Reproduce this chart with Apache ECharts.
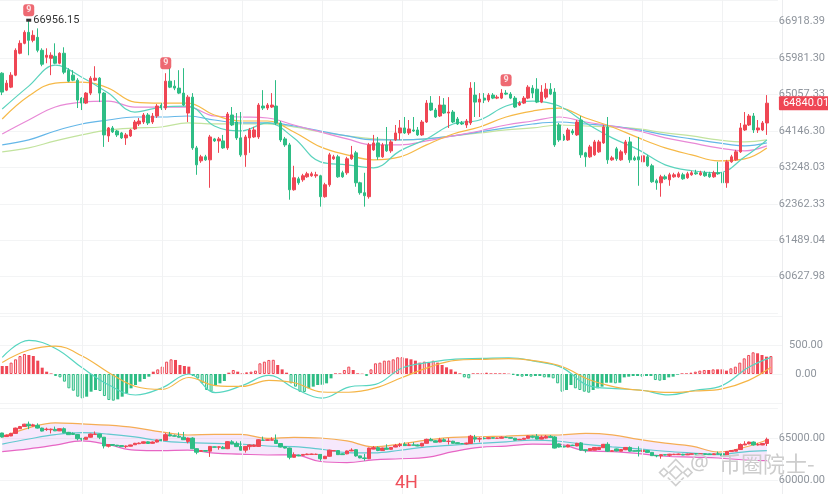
<!DOCTYPE html>
<html>
<head>
<meta charset="utf-8">
<script src="https://cdn.jsdelivr.net/npm/echarts@6/dist/echarts.min.js"></script>
<style>
  html, body { margin: 0; padding: 0; background: #fff; }
  #chart { width: 828px; height: 494px; }
</style>
</head>
<body>
<div id="chart"></div>
<script>
// price axis labels (the axis is log spaced)
const priceTicks = [60627.98, 61489.04, 62362.33, 63248.03, 64146.30, 65057.33, 65981.30, 66918.39];

// 4H candles
const opens = [
  65597,65168,65244,65547,66105,66360,66643,66437,66514,66181,
  66003,65977,66028,65850,66105,65673,65547,65420,64967,64842,
  65093,65420,65471,65093,64023,64221,64146,64097,63974,64023,
  64196,64320,64369,64544,64369,64519,64793,64718,65395,65269,
  65219,65093,64593,64992,63727,63409,63507,63433,63949,63899,
  63899,63727,64544,64369,63974,63556,63974,63998,63998,64768,
  64718,64743,64768,64345,63949,63801,62703,62969,62945,63018,
  63043,63043,63043,62534,62824,63458,63507,63116,63116,63458,
  63605,62872,62631,62534,63678,63850,63507,63801,63654,63924,
  64097,64221,64097,64171,64171,64048,64369,64842,64668,64519,
  64793,64593,64618,64444,64345,64295,64345,65043,64867,64967,
  64917,65043,64967,64967,65093,65068,64967,64793,64842,64967,
  65219,65193,64867,64992,65193,65118,64295,64023,63924,64146,
  64048,64419,63605,63507,63556,63629,63850,64245,63433,63703,
  63433,63605,63875,63482,63507,63384,63507,63287,62921,62872,
  63018,62945,63018,63018,63067,62994,63067,63116,63067,63116,
  63091,63018,63116,63116,62872,63384,63433,63629,64171,64295,
  64519,64171,64171,64345
];
const closes = [
  65118,65345,65547,66181,66360,66643,66437,66566,66181,65825,
  66054,66054,65850,66105,65622,65395,65420,64917,64842,65093,
  65471,65471,65093,64048,64221,64122,64048,63974,64048,64171,
  64369,64394,64544,64345,64519,64768,64718,65395,65244,65219,
  65093,64793,64992,63727,63311,63507,63433,63998,63899,63949,
  63727,64568,64295,63974,63556,63998,64171,64171,64793,64718,
  64793,64793,64345,63924,63801,62703,62994,62872,63043,63091,
  63091,63067,62534,62824,63556,63507,63018,63018,63458,63556,
  62872,62631,62559,63801,63850,63507,63801,63654,63875,64097,
  64221,64097,64196,64146,64048,64369,64842,64668,64494,64793,
  64593,64618,64369,64320,64320,64394,65219,64867,64942,64917,
  65043,64967,64992,65093,65068,64967,64743,64842,64967,65244,
  65093,64867,65118,65193,65068,63801,63924,63924,64171,64097,
  64369,63556,63507,63752,63875,63875,64245,63433,63482,63458,
  63629,63875,63433,63433,63433,63531,63287,62897,62872,63018,
  62969,63067,63067,63091,62969,63091,63116,63091,63116,63043,
  63018,63116,63091,62872,63384,63507,63629,64221,64295,64519,
  64171,64221,64345,64840.01
];
const lows = [
  65043,65143,65219,65521,66079,66335,66054,66386,66130,65774,
  65850,65547,65825,65825,65572,65370,65395,64718,64668,64818,
  65043,65395,64867,63752,63875,64097,63998,63949,63801,63998,
  64171,64270,64320,64295,64320,64469,64668,64668,65219,65168,
  65068,64768,64369,63678,63067,63360,63409,62751,63875,63605,
  63703,63678,64270,63924,63507,63262,63605,63974,63949,64668,
  64668,64718,64295,63875,63752,62462,62679,62824,62897,62994,
  63018,62994,62294,62510,62776,63433,62994,62994,63067,63433,
  62776,62583,62294,62486,63654,63433,63482,63629,63605,63899,
  63924,64072,64048,64122,64023,64023,64345,64643,64469,64494,
  64568,64221,64345,64295,64295,64221,64295,64494,64494,64842,
  64867,64942,64942,64942,65043,64942,64718,64768,64818,64942,
  64967,64842,64842,64942,65043,63752,63875,63899,63899,64048,
  64023,63482,63262,63482,63531,63605,63826,63335,63409,63409,
  63409,63556,63360,63409,62800,63360,63262,62872,62703,62534,
  62945,62800,62994,62994,62945,62969,63043,63067,63043,63018,
  62994,62994,63067,62727,62751,63360,63409,63605,64146,64270,
  64097,64097,64146,64048
];
const highs = [
  65622,65420,65622,66232,66437,66694,66956.15,66694,66745,66232,
  66232,66130,66360,66130,66258,65724,65673,65471,64992,65118,
  65521,65774,65496,65118,64245,64270,64171,64122,64097,64196,
  64419,64469,64593,64593,64593,64818,64842,65597,65724,65420,
  65673,65724,65043,65093,63776,63556,63556,64048,63974,63998,
  64048,64618,64743,64593,64618,64048,64221,64245,64842,65168,
  64842,65093,65420,64394,63998,63850,63287,63018,63091,63140,
  63140,63140,63067,62872,63605,63556,63556,63165,63507,63776,
  63654,62897,63116,63850,64048,63998,63850,64245,63924,64295,
  64419,64494,64419,64494,64245,64419,64917,65018,64718,65018,
  64967,64992,64668,64494,64394,64444,65370,65370,65093,65093,
  65093,65093,65043,65193,65168,65118,65018,64892,65018,65294,
  65294,65471,65294,65345,65345,65219,64345,64072,64221,64196,
  64419,64519,63629,63801,63924,63924,64295,64494,63531,63752,
  63678,63924,63998,63531,63998,63580,63556,63335,62969,63067,
  63067,63116,63116,63140,63116,63140,63165,63189,63165,63165,
  63140,63165,63384,63165,63433,63556,63678,64345,64618,64568,
  64593,64419,64394,65043
];

// moving averages, read at every 6th candle
const sampleIdx = [0,6,12,18,24,30,36,42,48,54,60,66,72,78,84,90,96,102,108,114,120,126,132,138,144,150,156,162,168,173];
const maTeal   = [64693,65269,65800,65496,65093,64618,64743,64768,64270,64146,64345,63974,63384,63311,63238,63654,63949,64320,64419,64768,64892,64768,64345,63974,63678,63311,63165,63116,63507,63924];
const maOrange = [64444,65018,65345,65370,65219,64867,64842,64842,64544,64394,64394,64122,63752,63556,63433,63507,63801,64072,64245,64494,64643,64718,64469,64245,63974,63727,63556,63409,63458,63727];
const maPink   = [64072,64419,64743,64867,64892,64743,64743,64743,64519,64494,64469,64295,64122,63949,63801,63801,63899,64023,64146,64295,64394,64494,64369,64270,64146,63974,63850,63727,63654,63776];
const maBlue   = [63801,63924,64146,64320,64419,64494,64494,64519,64419,64345,64345,64270,64146,64023,63924,63924,63949,64023,64122,64221,64320,64369,64320,64270,64171,64048,63949,63850,63776,63850];
const maLime   = [63629,63727,63899,64048,64171,64221,64245,64345,64320,64320,64320,64245,64122,64023,63949,63924,63949,64023,64097,64171,64221,64295,64270,64245,64196,64097,64023,63924,63875,63924];

// MACD
const macdHist = [
  138,138,196,253,310,345,328,310,230,109,
  40,10,-35,-58,-132,-247,-288,-391,-420,-391,
  -305,-276,-293,-380,-449,-460,-437,-391,-334,-247,
  -190,-132,-86,-46,40,80,127,213,253,242,
  155,138,127,-35,-75,-161,-276,-305,-190,-161,
  -121,23,69,40,12,29,40,58,184,213,
  242,245,155,80,23,-161,-218,-305,-310,-247,
  -218,-190,-185,-161,-75,12,12,69,127,69,
  12,6,-35,80,184,196,230,232,253,288,
  290,270,253,230,196,213,196,230,196,155,
  115,80,40,12,-58,-75,12,12,12,23,
  12,12,12,12,6,-12,-35,-46,-35,-46,
  -35,-35,-58,-58,-75,-161,-305,-276,-190,-247,
  -276,-305,-322,-276,-247,-218,-150,-150,-161,-150,
  -58,-46,-35,-35,-46,-35,-35,-104,-115,-104,
  -58,-46,-12,12,12,23,40,58,69,69,
  80,80,80,58,98,127,196,270,328,374,
  357,328,299,310
];
const dif = [287,580,441,106,-190,-362,-236,0,-322,-201,-25,-255,-415,-225,-180,103,200,258,268,280,218,110,-200,-252,-280,-360,-280,-200,115,287];
const dea = [200,413,480,310,23,-215,-265,-60,-200,-215,-110,-155,-310,-315,-240,-60,115,235,253,265,225,130,-95,-225,-284,-318,-293,-255,-110,115];
const macdLabels = [0, 500];

// Bollinger bands on the lower price panel
const bbUpper = [65100,66200,66800,66670,66530,66240,65720,65360,65440,65440,64950,65080,65000,64650,63950,64280,64740,65070,65150,65230,65350,65357,65555,65380,64830,64380,64040,63330,63900,64762];
const bbMid   = [64270,64880,65400,65630,65460,65130,64650,64440,64360,64280,64048,63970,63670,63270,63230,63540,63940,64160,64350,64550,64750,64610,64230,63940,63700,63420,63210,63030,63350,63488];
const bbLower = [63370,63700,64150,64650,64200,63550,63488,63560,63200,63080,62976,62990,62200,62070,62400,62530,62690,63370,63880,64040,64270,64230,63470,63380,63150,62830,62715,62620,62380,62300];
const lowerPanelLabels = [60000, 65000];

const tdNineIdx = [6, 37, 114];
const vLineIdx = [18, 36, 54, 72, 90, 108, 126, 144, 162];

const UP = '#EF4654', DOWN = '#2EBD85';
const N = opens.length + 2;
const categories = Array.from({ length: N }, (_, i) => String(i + 1));

const base = priceTicks[0];
const step = Math.log(priceTicks[priceTicks.length - 1] / base) / (priceTicks.length - 1);
const K = p => Math.log(p / base) / step;

const candleK = opens.map((o, i) => [K(o), K(closes[i]), K(lows[i]), K(highs[i])]);
const candleRaw = opens.map((o, i) => [o, closes[i], lows[i], highs[i]]);

function sparse(vals, f) {
  const a = new Array(N).fill(null);
  sampleIdx.forEach((ix, j) => { a[ix] = f ? f(vals[j]) : vals[j]; });
  return a;
}

let maxIdx = 0;
highs.forEach((h, i) => { if (h > highs[maxIdx]) maxIdx = i; });
const lastClose = closes[closes.length - 1];

const histData = macdHist.map((v, i) => {
  const prev = i > 0 ? Math.abs(macdHist[i - 1]) : Infinity;
  const c = v >= 0 ? UP : DOWN;
  if (Math.abs(v) > prev) {
    return { value: v, itemStyle: { color: v >= 0 ? 'rgba(239,70,84,0.16)' : 'rgba(46,189,133,0.2)', borderColor: c, borderWidth: 1 } };
  }
  return { value: v, itemStyle: { color: c } };
});

const axisText = { color: '#8E949C', fontSize: 11, fontFamily: 'Roboto', align: 'center', margin: 24 };
const candleStyle = { color: UP, color0: DOWN, borderColor: UP, borderColor0: DOWN, borderWidth: 1 };

function maLine(vals, color) {
  return {
    type: 'line', xAxisIndex: 0, yAxisIndex: 0, data: sparse(vals, K),
    connectNulls: true, smooth: 0.4, symbol: 'none', silent: true, z: 3,
    lineStyle: { color: color, width: 1.2 }
  };
}
function panelLine(ax, data, color, z) {
  return {
    type: 'line', xAxisIndex: ax, yAxisIndex: ax, data: data,
    connectNulls: true, smooth: 0.4, symbol: 'none', silent: true, z: z || 3,
    lineStyle: { color: color, width: 1.2 }
  };
}

const hiddenX = idx => ({
  type: 'category', gridIndex: idx, data: categories, boundaryGap: true,
  axisLine: { show: false }, axisTick: { show: false }, axisLabel: { show: false }, splitLine: { show: false }
});

const chart = echarts.init(document.getElementById('chart'));
chart.setOption({
  animation: false,
  backgroundColor: '#fff',
  grid: [
    { left: 0, right: 46, top: 0, height: 313.1 },
    { left: 0, right: 46, top: 316, height: 87 },
    { left: 0, right: 46, top: 408.6, height: 71.4 },
    { left: 0, right: 46, top: 0, bottom: 0 }
  ],
  xAxis: [hiddenX(0), hiddenX(1), hiddenX(2), hiddenX(3)],
  yAxis: [
    {
      type: 'value', gridIndex: 0, position: 'right', min: -1, max: 7.595, interval: 1,
      axisLine: { show: false }, axisTick: { show: false },
      splitLine: { lineStyle: { color: '#F3F4F5' } },
      axisLabel: Object.assign({}, axisText, {
        formatter: v => {
          const i = Math.round(v);
          return (Math.abs(v - i) < 1e-6 && i >= 0 && i < priceTicks.length) ? priceTicks[i].toFixed(2) : '';
        }
      })
    },
    {
      type: 'value', gridIndex: 1, position: 'right', min: -500, max: 1000, interval: 500,
      axisLine: { show: false }, axisTick: { show: false },
      splitLine: { lineStyle: { color: '#F3F4F5' } },
      axisLabel: Object.assign({}, axisText, {
        formatter: v => macdLabels.indexOf(v) >= 0 ? v.toFixed(2) : ''
      })
    },
    {
      type: 'value', gridIndex: 2, position: 'right', min: 60000, max: 68500, interval: 5000,
      axisLine: { show: false }, axisTick: { show: false },
      splitLine: { lineStyle: { color: '#F3F4F5' } },
      axisLabel: Object.assign({}, axisText, {
        formatter: v => lowerPanelLabels.indexOf(v) >= 0 ? v.toFixed(2) : ''
      })
    },
    {
      type: 'value', gridIndex: 3, position: 'right', min: 0, max: 1,
      axisLine: { show: true, lineStyle: { color: '#ECEDEF' } },
      axisTick: { show: false }, axisLabel: { show: false }, splitLine: { show: false }
    }
  ],
  series: [
    {
      type: 'line', xAxisIndex: 3, yAxisIndex: 3, data: [], silent: true, z: 0,
      markLine: {
        silent: true, symbol: ['none', 'none'], animation: false,
        label: { show: false },
        lineStyle: { color: '#F1F2F3', width: 1, type: 'solid' },
        data: vLineIdx.map(i => ({ xAxis: i }))
      }
    },
    maLine(maLime, '#C2E39E'),
    maLine(maBlue, '#65B7E8'),
    maLine(maPink, '#E889D6'),
    maLine(maOrange, '#F6B947'),
    maLine(maTeal, '#5BD3BD'),
    {
      type: 'candlestick', xAxisIndex: 0, yAxisIndex: 0, data: candleK, barWidth: 3, z: 4,
      silent: true, itemStyle: candleStyle,
      markPoint: {
        silent: true, animation: false,
        symbol: 'rect', symbolSize: [5, 3],
        itemStyle: { color: '#333' },
        label: {
          show: true, position: 'right', distance: 2, color: '#333', fontSize: 11, fontFamily: 'Roboto',
          formatter: () => highs[maxIdx].toFixed(2)
        },
        data: [{ coord: [maxIdx, K(highs[maxIdx])] }]
      },
      markLine: {
        silent: true, symbol: ['none', 'none'], animation: false,
        lineStyle: { color: 'rgba(0,0,0,0)', width: 0 },
        label: {
          show: true, position: 'end', distance: 1, formatter: () => lastClose.toFixed(2),
          color: '#fff', backgroundColor: UP, fontSize: 11, fontFamily: 'Roboto',
          padding: [2, 3, 1, 4], borderRadius: 1
        },
        data: [{ yAxis: K(lastClose) }]
      }
    },
    {
      type: 'scatter', xAxisIndex: 0, yAxisIndex: 0, z: 6, silent: true,
      data: tdNineIdx.map(i => [i, K(highs[i])]),
      symbol: 'roundRect', symbolSize: [11, 12], symbolOffset: [0, -10],
      itemStyle: { color: '#EA434F' },
      label: { show: true, position: 'inside', formatter: '9', color: '#fff', fontSize: 9, fontWeight: 'bold', fontFamily: 'Roboto' }
    },
    {
      type: 'bar', xAxisIndex: 1, yAxisIndex: 1, data: histData, barWidth: 3, silent: true, z: 2
    },
    panelLine(1, sparse(dif), '#57D5C0'),
    panelLine(1, sparse(dea), '#F5B546'),
    {
      type: 'custom', xAxisIndex: 2, yAxisIndex: 2, silent: true, z: 1,
      data: [[0, 63000]],
      renderItem: (params, api) => {
        const up = sampleIdx.map((ix, j) => api.coord([ix, bbUpper[j]]));
        const lo = sampleIdx.map((ix, j) => api.coord([ix, bbLower[j]])).reverse();
        return { type: 'polygon', shape: { points: up.concat(lo) }, style: { fill: 'rgba(200,120,240,0.17)' } };
      }
    },
    panelLine(2, sparse(bbUpper), '#F5AD55', 3),
    panelLine(2, sparse(bbMid), '#62C9CF', 3),
    panelLine(2, sparse(bbLower), '#E766C4', 3),
    {
      type: 'candlestick', xAxisIndex: 2, yAxisIndex: 2, data: candleRaw, barWidth: 4, z: 4,
      silent: true, itemStyle: candleStyle
    }
  ],
  graphic: [
    {
      type: 'text', left: 395, top: 474, z: 10,
      style: { text: '4H', fontSize: 18, fill: '#EF4F5A', fontFamily: 'Roboto' }
    },
    {
      type: 'group', left: 656, top: 457, z: 10, silent: true,
      children: [
        { type: 'rect', shape: { x: -4.5, y: -4.5, width: 9, height: 9 }, x: 16, y: 10, rotation: Math.PI / 4, style: { fill: 'none', stroke: '#CFCFCF', lineWidth: 1.6 } },
        { type: 'rect', shape: { x: -3, y: -3, width: 6, height: 6 }, x: 4, y: 10, rotation: Math.PI / 4, style: { fill: 'none', stroke: '#CFCFCF', lineWidth: 1.6 } },
        { type: 'rect', shape: { x: -3, y: -3, width: 6, height: 6 }, x: 28, y: 10, rotation: Math.PI / 4, style: { fill: 'none', stroke: '#CFCFCF', lineWidth: 1.6 } },
        { type: 'polyline', shape: { points: [[8, 5], [16, -3], [24, 5]] }, style: { stroke: '#CFCFCF', lineWidth: 1.6, fill: 'none' } },
        { type: 'polyline', shape: { points: [[8, 15], [16, 23], [24, 15]] }, style: { stroke: '#CFCFCF', lineWidth: 1.6, fill: 'none' } }
      ]
    },
    {
      type: 'text', left: 690, top: 454, z: 10, silent: true,
      style: { text: '@', fontSize: 21, fill: '#CDCDCD', fontFamily: 'Noto Sans' }
    },
    {
      type: 'text', left: 719, top: 453, z: 10, silent: true,
      style: { text: '币圈院士-', fontSize: 22, fill: '#CDCDCD', fontFamily: 'Noto Sans CJK SC' }
    }
  ]
});
</script>
</body>
</html>
